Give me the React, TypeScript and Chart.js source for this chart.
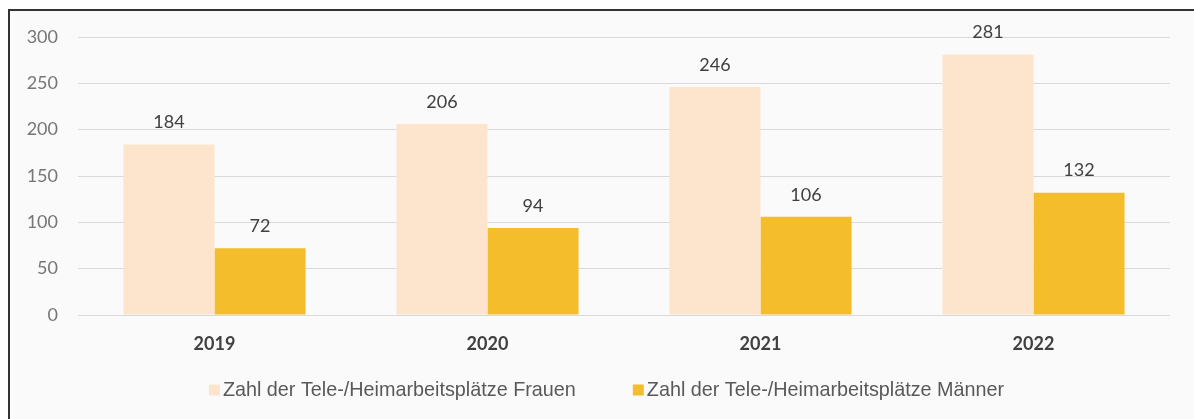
import React, { useEffect, useRef } from "react";
import { Chart, registerables } from "chart.js";

Chart.register(...registerables);

const years = ["2019", "2020", "2021", "2022"];
const frauen = [184, 206, 246, 281];
const maenner = [72, 94, 106, 132];
const seriesNames = [
  "Zahl der Tele-/Heimarbeitsplätze Frauen",
  "Zahl der Tele-/Heimarbeitsplätze Männer",
];
const colors = ["#FDE4CC", "#F4BD2B"];

const framePlugin = {
  id: "frame",
  beforeDraw(chart: any) {
    const ctx = chart.ctx;
    ctx.save();
    ctx.fillStyle = "#FFFFFF";
    ctx.fillRect(0, 0, chart.width, chart.height);
    ctx.fillStyle = "#FAFAFA";
    ctx.fillRect(9, 10, chart.width - 9, chart.height - 10);
    ctx.strokeStyle = "#333333";
    ctx.lineWidth = 2;
    ctx.beginPath();
    ctx.moveTo(8, 10);
    ctx.lineTo(chart.width, 10);
    ctx.moveTo(9, 10);
    ctx.lineTo(9, chart.height);
    ctx.stroke();
    ctx.restore();
  },
};

const labelPlugin = {
  id: "valueLabels",
  afterDatasetsDraw(chart: any) {
    const ctx = chart.ctx;
    ctx.save();
    ctx.font = "18px Lato";
    ctx.fillStyle = "#404040";
    ctx.textAlign = "center";
    ctx.textBaseline = "middle";
    chart.data.datasets.forEach((ds: any, i: number) => {
      const meta = chart.getDatasetMeta(i);
      meta.data.forEach((el: any, j: number) => {
        ctx.fillText(String(ds.data[j]), el.x, el.y - 22);
      });
    });
    ctx.restore();
  },
};

const legendPlugin = {
  id: "customLegend",
  afterDraw(chart: any) {
    const ctx = chart.ctx;
    ctx.save();
    ctx.font = "19.8px 'Liberation Sans'";
    ctx.textBaseline = "middle";
    ctx.textAlign = "left";
    const box = 11;
    const gap = 3;
    const itemGap = 57;
    const widths = seriesNames.map((n) => box + gap + ctx.measureText(n).width);
    const total = widths.reduce((a, b) => a + b, 0) + itemGap * (widths.length - 1);
    let x = 606.5 - total / 2;
    const y = 390;
    seriesNames.forEach((n, i) => {
      ctx.fillStyle = colors[i];
      ctx.fillRect(x, y - box / 2, box, box);
      ctx.fillStyle = "#595959";
      ctx.fillText(n, x + box + gap, y + 1);
      x += widths[i] + itemGap;
    });
    ctx.restore();
  },
};

export default function App() {
  const ref = useRef<HTMLCanvasElement | null>(null);
  useEffect(() => {
    if (!ref.current) return;
    const chart = new Chart(ref.current, {
      type: "bar",
      data: {
        labels: years,
        datasets: [
          {
            label: seriesNames[0],
            data: frauen,
            backgroundColor: colors[0],
            categoryPercentage: 0.667,
            barPercentage: 1,
          },
          {
            label: seriesNames[1],
            data: maenner,
            backgroundColor: colors[1],
            categoryPercentage: 0.667,
            barPercentage: 1,
          },
        ],
      },
      options: {
        responsive: false,
        animation: false,
        layout: { padding: { top: 37, left: 0, right: 24, bottom: 48 } },
        plugins: {
          legend: { display: false },
          tooltip: { enabled: false },
        },
        scales: {
          x: {
            grid: { display: false, drawTicks: false },
            border: { display: false },
            ticks: {
              color: "#404040",
              font: { family: "Lato", size: 18, weight: "bold" },
              padding: 18,
            },
            afterFit: (s: any) => {
              s.height = 56;
            },
          },
          y: {
            min: 0,
            max: 300,
            ticks: {
              stepSize: 50,
              color: "#767676",
              font: { family: "Lato", size: 18 },
              padding: 20,
            },
            grid: { color: "#D9D9D9", drawTicks: false, lineWidth: 1 },
            border: { display: false },
            afterFit: (s: any) => {
              s.width = 78;
            },
          },
        },
      },
      plugins: [framePlugin, labelPlugin, legendPlugin],
    });
    return () => chart.destroy();
  }, []);
  return (
    <div style={{ position: "absolute", left: 0, top: 0, width: 1194, height: 419 }}>
      <canvas ref={ref} width={1194} height={419} />
    </div>
  );
}
